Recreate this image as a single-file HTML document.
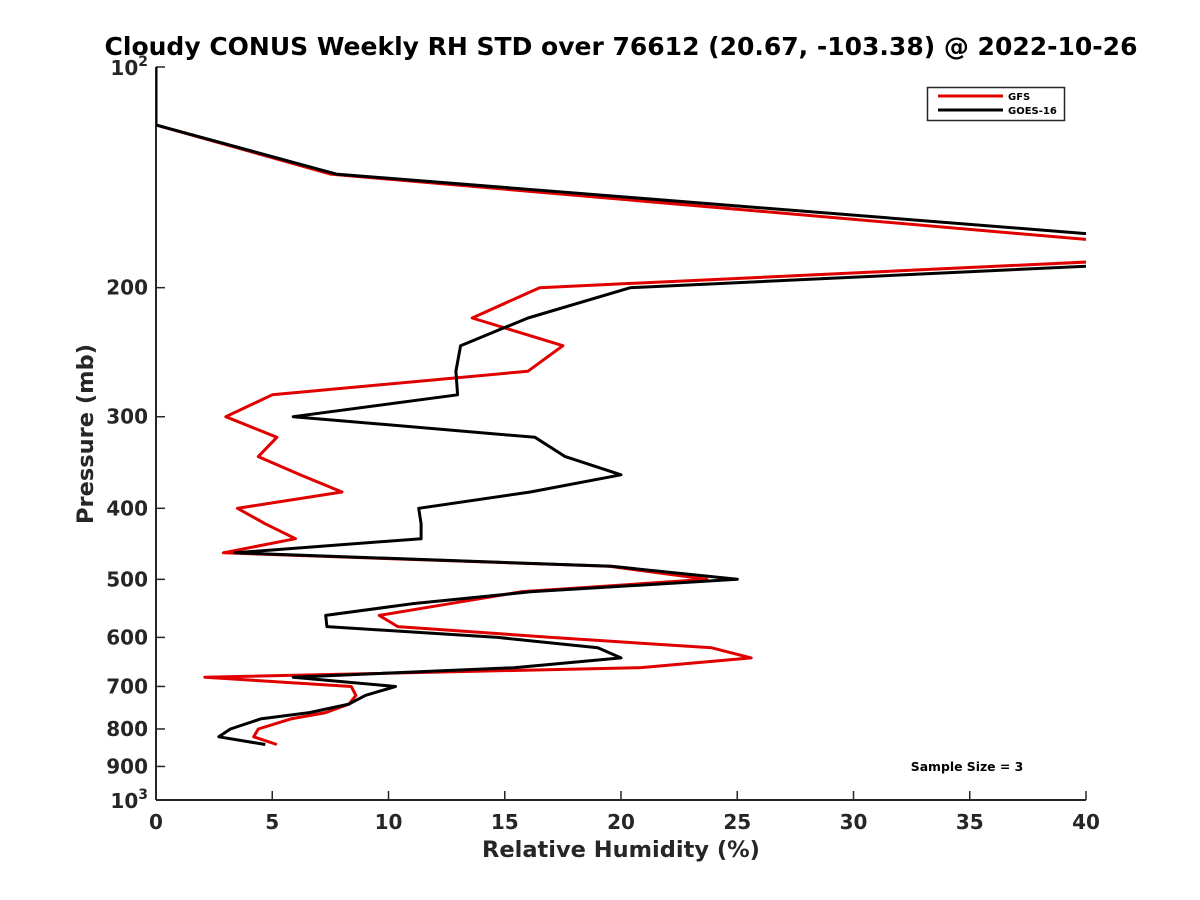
<!DOCTYPE html>
<html><head><meta charset="utf-8"><style>
body{margin:0;background:#fff;}
svg{display:block;font-family:"DejaVu Sans","Liberation Sans",sans-serif;font-weight:bold;}
</style></head><body>
<svg id="chart" width="1200" height="900" viewBox="0 0 1200 900">
<text x="621" y="55" text-anchor="middle" font-size="25">Cloudy CONUS Weekly RH STD over 76612 (20.67, -103.38) @ 2022-10-26</text>
<defs><clipPath id="plotclip"><rect x="156" y="67" width="930" height="733"/></clipPath></defs>
<g id="axes"></g>
<g id="series" clip-path="url(#plotclip)"></g>
<text x="621" y="857" text-anchor="middle" font-size="22.5" fill="#262626">Relative Humidity (%)</text>
<text transform="translate(93,434) rotate(-90)" text-anchor="middle" font-size="22.5" fill="#262626">Pressure (mb)</text>
<g>
<rect x="927.5" y="87.5" width="137" height="33" fill="#fff" stroke="#262626" stroke-width="1.5"/>
<line x1="938" y1="96" x2="1003" y2="96" stroke="#e00000" stroke-width="3"/>
<text x="1008" y="100" font-size="10">GFS</text>
<line x1="938" y1="110" x2="1003" y2="110" stroke="#000" stroke-width="3"/>
<text x="1008" y="114" font-size="10">GOES-16</text>
</g>
<text x="967" y="771" text-anchor="middle" font-size="12.4">Sample Size = 3</text>
</svg>
<script>
const pressures=[100,120,140,180,200,220,240,260,280,300,320,340,360,380,400,420,440,460,480,500,520,540,560,580,600,620,640,660,680,700,720,740,760,775,800,820,840];
const gfsValues=[0,0,7.5,47.3,16.5,13.6,17.5,16.0,5.0,3.0,5.2,4.4,6.2,8.0,3.5,4.7,6.0,2.9,19.5,23.7,15.7,12.6,9.6,10.4,17.0,23.9,25.6,20.8,2.1,8.4,8.6,8.3,7.3,5.8,4.4,4.2,5.2];
const goesValues=[0,0,7.75,51.1,20.4,16.0,13.1,12.9,12.97,5.9,16.3,17.6,20.0,16.1,11.3,11.4,11.4,3.4,19.6,25.0,16.1,11.0,7.3,7.35,14.7,19.0,20.0,15.4,5.9,10.3,9.0,8.3,6.6,4.5,3.2,2.7,4.7];
const xTicks=[0,5,10,15,20,25,30,35,40];
const yTicks=[200,300,400,500,600,700,800,900];
const X0=156,X1=1086,Y0=67,Y1=800;
function xs(v){return X0+(v-0)/(40-0)*(X1-X0);}
function ys(p){return Y0+(Math.log10(p)-2)*(Y1-Y0);}
const NS="http://www.w3.org/2000/svg";
const axes=document.getElementById('axes');
const series=document.getElementById('series');
function mk(t,a,parent){const e=document.createElementNS(NS,t);for(const k in a)e.setAttribute(k,a[k]);parent.appendChild(e);return e;}
let l=mk('line',{x1:X0,y1:Y0,x2:X0,y2:Y1,stroke:'#262626','stroke-width':2},axes);


l=mk('line',{x1:X0,y1:Y1,x2:X1,y2:Y1,stroke:'#262626','stroke-width':2},axes);


xTicks.forEach(v=>{
 const t=mk('line',{x1:xs(v),y1:Y1,x2:xs(v),y2:Y1-9,stroke:'#262626','stroke-width':1.5},axes);
 
 
 const tx=mk('text',{x:xs(v),y:Y1+29,'text-anchor':'middle','font-size':20,fill:'#262626'},axes);
 tx.textContent=v;
 
 
});
[100,1000].concat(yTicks).forEach(p=>{
 const t=mk('line',{x1:X0,y1:ys(p),x2:X0+9,y2:ys(p),stroke:'#262626','stroke-width':1.5},axes);
 
 
});
yTicks.forEach(p=>{
 const tx=mk('text',{x:X0-8,y:ys(p)+7,'text-anchor':'end','font-size':20,fill:'#262626'},axes);
 tx.textContent=p;
 
 
});
[[2,Y0],[3,Y1]].forEach(([e,y])=>{
 const tx=mk('text',{x:X0-8,y:y+8,'text-anchor':'end','font-size':20,fill:'#262626'},axes);
 tx.innerHTML='10<tspan dy="-9" font-size="14">'+e+'</tspan>';
 
 
});
function draw(vals,color,name){
 const pts=vals.map((v,i)=>xs(v).toFixed(1)+','+ys(pressures[i]).toFixed(1)).join(' ');
 const pl=mk('polyline',{points:pts,fill:'none',stroke:color,'stroke-width':3,'stroke-linejoin':'round'},series);
 
 
}
draw(gfsValues,'#e00000','gfs-line');
draw(goesValues,'#000','goes16-line');
</script>
</body></html>
